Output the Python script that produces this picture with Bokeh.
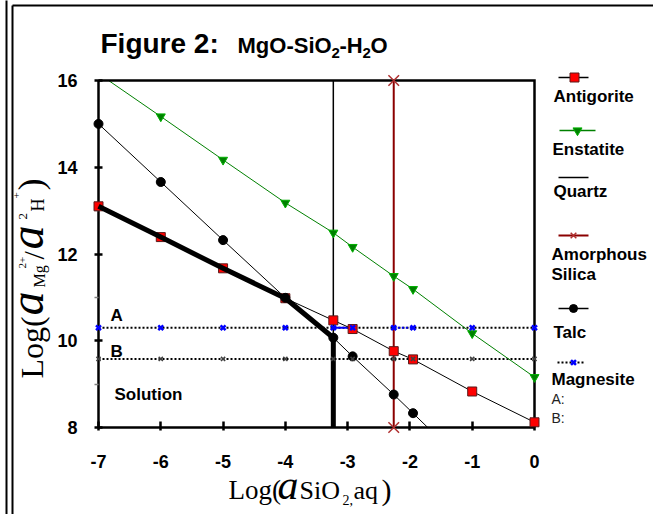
import math
from bokeh.plotting import figure
from bokeh.models import Label, FixedTicker
from bokeh.embed import file_html
from bokeh.resources import INLINE

# ---------------- data ----------------
log_sio2 = [-7.0, -6.0, -5.0, -4.0, -3.23, -2.92, -2.26, -1.95, -1.0, 0.0]
antigorite = [13.10, 12.39, 11.67, 10.98, 10.47, 10.27, 9.76, 9.57, 8.83, 8.12]
enstatite = [16.16, 15.17, 14.17, 13.18, 12.49, 12.16, 11.49, 11.19, 10.17, 9.16]
talc_x = [-7.0, -6.0, -5.0, -4.0, -3.23, -2.92, -2.26, -1.95, -1.0]
talc = [15.00, 13.66, 12.32, 10.99, 10.07, 9.64, 8.76, 8.33, 7.00]
quartz_log_sio2 = -3.23
amorphous_silica_log_sio2 = -2.26
magnesite_A = 10.30
magnesite_B = 9.58

x_ticks = [-7, -6, -5, -4, -3, -2, -1, 0]
x_tick_labels = ["-7", "-6", "-5", "-4", "-3", "-2", "-1", "0"]
y_ticks = [8, 10, 12, 14, 16]
y_tick_labels = ["8", "10", "12", "14", "16"]
y_minor_ticks = [9, 11, 13, 15]

X_MIN, X_MAX, Y_MIN, Y_MAX = -7, 0, 8, 16

# ---------------- layout (picture pixels) ----------------
CW, CH = 653, 514
L, R, T, B = 98, 534, 80, 427        # chart box
PPX = (R - L) / (X_MAX - X_MIN)
PPY = (B - T) / (Y_MAX - Y_MIN)
XS, XE = X_MIN - L / PPX, X_MAX + (CW - R) / PPX
YS, YE = Y_MIN - (CH - B) / PPY, Y_MAX + T / PPY
K = 0.35                              # text anchor correction (fraction of font size)

SANS = "Liberation Sans"
SERIF = "Liberation Serif"


def DX(px):
    return XS + px / PPX


def DY(py):
    return YE - py / PPY


p = figure(width=CW, height=CH, x_range=(XS, XE), y_range=(YS, YE),
           output_backend="svg", toolbar_location=None, title=None,
           min_border=0, min_border_left=0, min_border_right=0,
           min_border_top=0, min_border_bottom=0)
p.background_fill_color = "white"
p.border_fill_color = "white"
p.outline_line_color = None
p.xgrid.visible = False
p.ygrid.visible = False

# axes placed on the chart box
p.xaxis.fixed_location = Y_MIN
p.xaxis.bounds = (X_MIN, X_MAX)
p.yaxis.fixed_location = X_MIN
p.yaxis.bounds = (Y_MIN, Y_MAX)
p.xaxis.ticker = FixedTicker(ticks=x_ticks, minor_ticks=[])
p.xaxis.major_label_overrides = {t: s for t, s in zip(x_ticks, x_tick_labels)}
p.yaxis.ticker = FixedTicker(ticks=y_ticks, minor_ticks=y_minor_ticks)
p.yaxis.major_label_overrides = {t: s for t, s in zip(y_ticks, y_tick_labels)}
for ax in (p.xaxis, p.yaxis):
    ax.axis_line_color = "black"
    ax.axis_line_width = 2.5
    ax.major_tick_line_color = "black"
    ax.major_tick_line_width = 2.5
    ax.major_label_text_font = SANS
    ax.major_label_text_font_style = "bold"
    ax.major_label_text_font_size = "18px"
    ax.major_label_text_color = "black"
p.xaxis.major_tick_in = 6
p.xaxis.major_tick_out = 3
p.xaxis.minor_tick_line_color = None
p.xaxis.major_label_standoff = 24
p.yaxis.major_tick_in = 4
p.yaxis.major_tick_out = 4
p.yaxis.minor_tick_line_color = "#808080"
p.yaxis.minor_tick_line_width = 1.5
p.yaxis.minor_tick_in = 0
p.yaxis.minor_tick_out = 4
p.yaxis.major_label_standoff = 17

n = len(log_sio2)
magA = [magnesite_A] * n
magB = [magnesite_B] * n

# ---------------- lines ----------------
p.line(log_sio2, magA, line_color="black", line_width=2, line_dash="2 2")
p.line(log_sio2, magB, line_color="black", line_width=2, line_dash="2 2")
p.line(log_sio2[4:6], magA[4:6], line_color="#0000ff", line_width=2)
p.line(log_sio2[6:8], magA[6:8], line_color="#0000ff", line_width=2, line_dash="2 2")
p.line(log_sio2, enstatite, line_color="#008000", line_width=1)
p.line(talc_x, talc, line_color="black", line_width=1)
p.line(log_sio2, antigorite, line_color="black", line_width=1)
p.line([quartz_log_sio2, quartz_log_sio2], [Y_MIN, Y_MAX], line_color="black", line_width=1.5)
p.line([amorphous_silica_log_sio2] * 2, [Y_MIN, Y_MAX], line_color="#8b0000", line_width=2)

# hide the parts of the series lines that leave the chart box
p.quad(left=[XS, XS], right=[XE, XE], bottom=[Y_MAX, YS], top=[YE, Y_MIN],
       fill_color="white", line_color=None)

# chart box: top and right edges
p.line([X_MIN, X_MAX, X_MAX], [Y_MAX, Y_MAX, Y_MIN], line_color="black",
       line_width=2.5, line_join="miter")


def inside(xs, ys):
    pts = [(x, y) for x, y in zip(xs, ys) if Y_MIN <= y <= Y_MAX]
    return [a for a, _ in pts], [b for _, b in pts]


# ---------------- markers ----------------
ex, ey = inside(log_sio2, enstatite)
p.scatter(ex, ey, marker="inverted_triangle", size=9, fill_color="#008000",
          line_color="#00b000", line_width=1, level="overlay")
p.scatter(log_sio2, antigorite, marker="square", size=9, fill_color="#ff0000",
          line_color="#5a1a1a", line_width=1, level="overlay")

# thick stability boundary: antigorite, then talc to quartz, then down
bx = log_sio2[:4] + [quartz_log_sio2, quartz_log_sio2]
by = antigorite[:4] + [talc[4], Y_MIN]
p.line(bx, by, line_color="black", line_width=5, line_join="round", level="overlay")

tx, ty = inside(talc_x, talc)
p.scatter(tx, ty, marker="circle", size=9, fill_color="black", line_color="black", level="overlay")
p.scatter(log_sio2, magA, marker="x", size=7, line_color="#0000ff", line_width=2.5, level="overlay")
p.scatter(log_sio2, magB, marker="x", size=6, line_color="#404040", line_width=1.5, level="overlay")
p.scatter([amorphous_silica_log_sio2] * 2, [Y_MIN, Y_MAX], marker="x", size=15,
          line_color="#b03030", line_width=1.5, level="overlay")


def label(px, py, text, size, font=SANS, style="bold", color="black"):
    """Horizontal text; (px, py) is the left end of its baseline."""
    p.add_layout(Label(x=DX(px), y=DY(py - K * size), text=text, text_font=font,
                       text_font_size=f"{size}px", text_font_style=style,
                       text_color=color, text_align="left",
                       text_baseline="alphabetic"))


def vlabel(px, py, text, size, font=SERIF, style="normal"):
    """Text rotated to read upwards; (px, py) is the lower end of its baseline."""
    p.add_layout(Label(x=DX(px - K * size), y=DY(py), text=text, text_font=font,
                       text_font_size=f"{size}px", text_font_style=style,
                       text_color="black", angle=math.pi / 2, text_align="left",
                       text_baseline="alphabetic"))


# ---------------- title ----------------
label(100, 53, "Figure 2:", 28)
label(237, 53, "MgO-SiO", 22)
label(331, 58, "2", 15)
label(339, 53, "-H", 22)
label(362, 58, "2", 15)
label(370, 53, "O", 22)

# ---------------- in-plot labels ----------------
label(110, 321, "A", 17)
label(110, 357, "B", 17)
label(114, 400, "Solution", 17)

# ---------------- x-axis title ----------------
label(228, 499, "Log(", 27, font=SERIF, style="normal")
label(277, 499, "a", 42, font=SERIF, style="italic")
label(299, 499, "SiO", 26, font=SERIF, style="normal")
label(342, 504, "2,", 14, font=SERIF, style="normal")
label(353, 499, "aq", 26, font=SERIF, style="normal")
label(381, 499, ")", 30, font=SERIF, style="normal")

# ---------------- y-axis title (rotated) ----------------
vlabel(43, 378, "Log(", 32)
vlabel(43, 315, "a", 48, style="italic")
vlabel(45, 287, "Mg", 16)
vlabel(26, 268, "2+", 11)
vlabel(43, 259, "/", 30)
vlabel(43, 249, "a", 48, style="italic")
vlabel(27, 219, "2", 13)
vlabel(44, 211, "H", 18)
vlabel(20, 198, "+", 11)
vlabel(43, 190, ")", 36)


# ---------------- legend ----------------
def leg_line(py, color, width=1.5, dash="solid", x0=558, x1=588):
    p.line([DX(x0), DX(x1)], [DY(py), DY(py)], line_color=color, line_width=width,
           line_dash=dash, level="overlay")


def leg_marker(px, py, **kw):
    p.scatter([DX(px)], [DY(py)], level="overlay", **kw)


leg_line(77, "black")
leg_marker(574, 77, marker="square", size=9, fill_color="#ff0000", line_color="#5a1a1a")
label(553, 102, "Antigorite", 17)

leg_line(130, "#008000", x0=559, x1=595)
leg_marker(577, 130, marker="inverted_triangle", size=9, fill_color="#008000", line_color="#00b000")
label(552, 155, "Enstatite", 17)

leg_line(177, "black")
label(553, 197, "Quartz", 17)

leg_line(235, "#8b0000", width=2)
leg_marker(573, 235, marker="x", size=8, line_color="#b03030", line_width=1.5)
label(551, 260, "Amorphous", 17)
label(551, 280, "Silica", 17)

leg_line(308, "black")
leg_marker(573, 308, marker="circle", size=8, fill_color="black", line_color="black")
label(553, 338, "Talc", 17)

leg_line(362, "black", width=2, dash="2 2", x0=557, x1=585)
leg_marker(573, 362, marker="x", size=7, line_color="#0000ff", line_width=2.5)
label(551, 385, "Magnesite", 17)
label(551, 403, "A:", 14, style="normal", color="#222222")
label(551, 422, "B:", 14, style="normal", color="#222222")

# ---------------- chart-area border ----------------
p.segment(x0=[DX(6), DX(12), DX(12)], y0=[DY(0), DY(5), DY(5)],
          x1=[DX(6), DX(12), DX(CW)], y1=[DY(CH), DY(CH), DY(5)],
          line_color="black", line_width=2, level="overlay")

open("out.html", "w").write(file_html(p, INLINE))
